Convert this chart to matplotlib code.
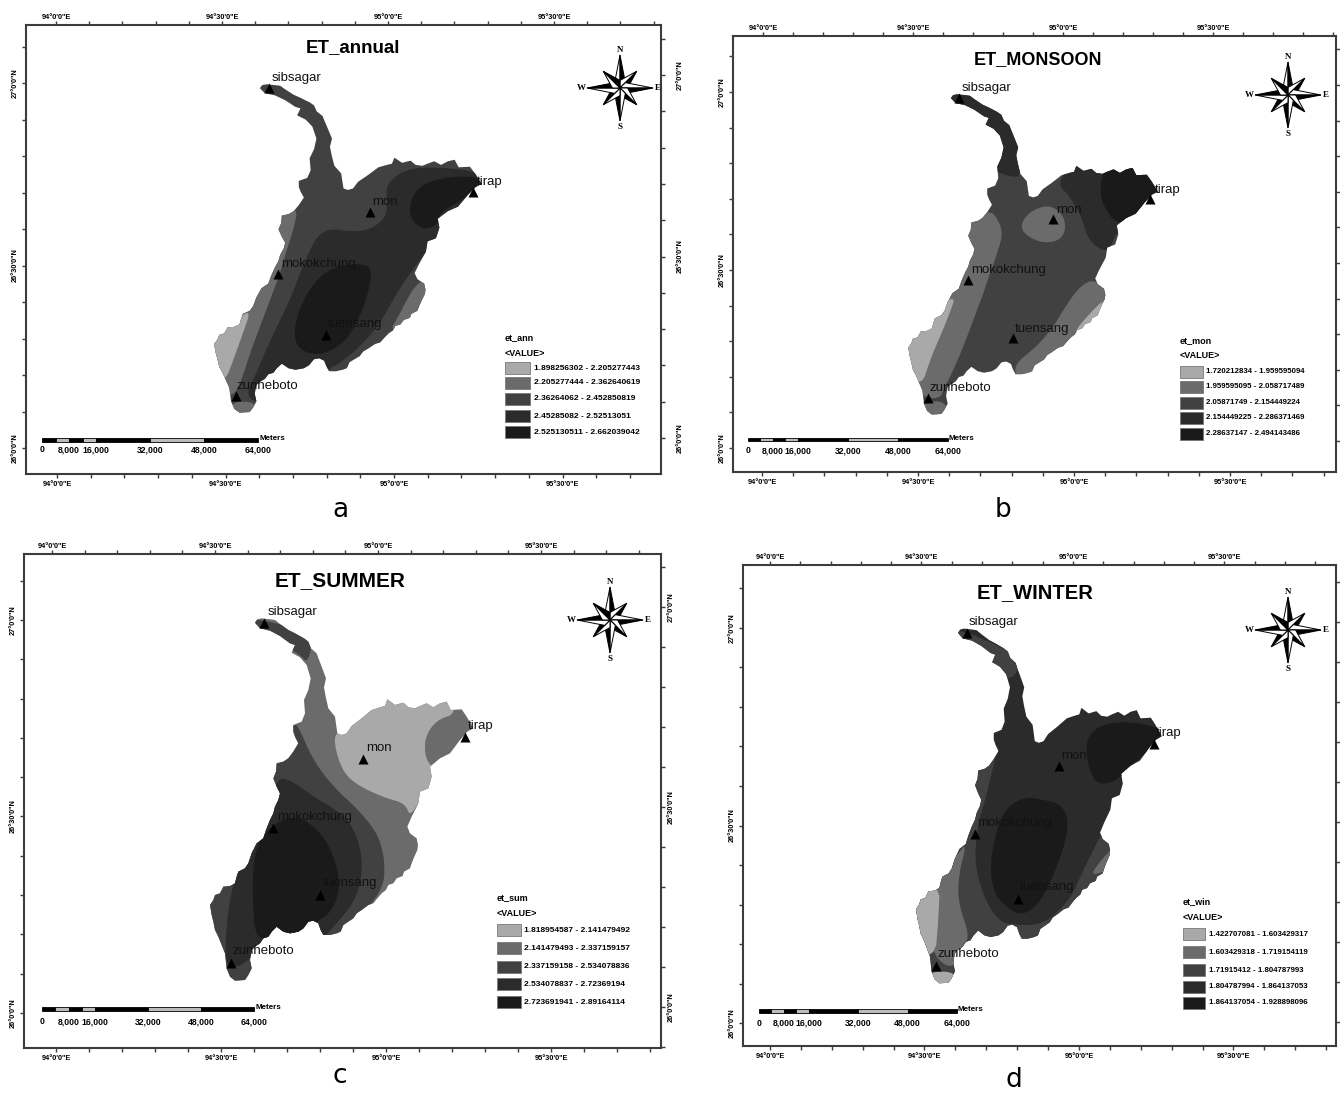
import numpy as np
import matplotlib
matplotlib.use("Agg")
import matplotlib.pyplot as plt
from matplotlib.patches import Polygon, Rectangle

plt.rcParams['font.family'] = ['Liberation Sans', 'DejaVu Sans']

# class colours, light to dark
C1, C2, C3, C4, C5 = '#a9a9a9', '#6b6b6b', '#414141', '#2b2b2b', '#1a1a1a'
class_colors = [C1, C2, C3, C4, C5]

# basin outline (3x crop units)
basin_x = [225, 232, 245, 270, 285, 300, 325, 345, 372, 385, 393, 410, 418, 425, 438, 432, 437, 445, 465, 472,
           485, 500, 515, 545, 575, 600, 615, 622, 645, 670, 685, 705, 720, 740, 760, 780, 800, 812, 845, 860,
           880, 862, 840, 810, 780, 750, 755, 745, 720, 715, 695, 682, 690, 710, 714, 712, 703, 695, 690, 672,
           668, 650, 640, 625, 618, 605, 592, 580, 565, 545, 530, 520, 505, 490, 482, 470, 450, 430, 422, 415,
           400, 385, 370, 355, 330, 310, 290, 275, 265, 250, 240, 225, 215, 212, 210, 215, 205, 195, 165, 150,
           140, 135, 125, 115, 105, 100, 95, 90, 100, 105, 120, 130, 150, 165, 170, 175, 195, 205, 215, 230,
           250, 258, 270, 280, 285, 295, 300, 290, 280, 288, 290, 310, 325, 340, 355, 345, 340, 340, 365, 375,
           372, 385, 392, 380, 360, 335, 345, 330, 300, 270, 240]
basin_y = [68, 58, 55, 58, 60, 72, 90, 100, 115, 125, 145, 160, 182, 200, 235, 262, 290, 325, 350, 400,
           405, 400, 378, 355, 330, 322, 318, 298, 315, 308, 322, 325, 318, 310, 322, 310, 305, 330, 328, 350,
           385, 395, 420, 460, 475, 500, 530, 565, 575, 610, 650, 680, 700, 715, 735, 750, 770, 790, 805, 815,
           828, 835, 850, 855, 870, 880, 895, 910, 915, 930, 940, 955, 965, 975, 995, 1000, 1005, 1005, 990, 970,
           962, 965, 985, 995, 1000, 995, 980, 995, 1010, 1015, 1030, 1040, 1050, 1065, 1080, 1105, 1125, 1140, 1142, 1130,
           1105, 1060, 1035, 1010, 990, 965, 945, 915, 900, 885, 880, 860, 858, 850, 830, 815, 805, 790, 760, 730,
           715, 690, 660, 640, 620, 600, 580, 560, 535, 515, 490, 485, 475, 455, 430, 410, 395, 375, 365, 340,
           300, 270, 235, 195, 172, 158, 135, 130, 108, 92, 85]

station_names = ['sibsagar', 'mon', 'tirap', 'mokokchung', 'tuensang', 'zunheboto']

# station triangles per panel
ann_sta_x = [237, 540, 850, 265, 407, 137]
ann_sta_y = [83, 457, 395, 642, 825, 1008]
mon_sta_x = [207, 490, 780, 235, 368, 115]
mon_sta_y = [83, 446, 387, 631, 805, 985]
sum_sta_x = [252, 550, 855, 280, 420, 153]
sum_sta_y = [68, 477, 410, 683, 885, 1088]
win_sta_x = [230, 507, 792, 255, 385, 137]
win_sta_y = [70, 467, 402, 672, 868, 1068]

# station label positions per panel
ann_lab_x = [245, 547, 860, 273, 413, 140]
ann_lab_y = [55, 427, 367, 613, 793, 978]
mon_lab_x = [215, 497, 795, 243, 375, 120]
mon_lab_y = [55, 420, 360, 600, 777, 955]
sum_lab_x = [262, 557, 862, 290, 427, 158]
sum_lab_y = [35, 445, 377, 650, 850, 1053]
win_lab_x = [236, 512, 798, 262, 390, 142]
win_lab_y = [35, 437, 370, 638, 832, 1033]

# zones of ET_annual
ann_c4 = [(590, 370), (650, 325), (750, 322), (870, 335), (900, 400), (800, 450), (760, 500), (720, 560), (660, 640),
          (620, 700), (570, 790), (510, 860), (450, 910), (415, 925), (415, 960), (290, 990), (230, 1000), (195, 1030),
          (170, 1000), (190, 960), (215, 900), (260, 800), (300, 720), (330, 640), (355, 580), (380, 530), (420, 505),
          (480, 515), (540, 510), (590, 470), (590, 420)]
ann_c5a = [(860, 350), (780, 350), (700, 370), (665, 410), (658, 450), (670, 490), (710, 510), (745, 490), (750, 460),
           (780, 440), (830, 410), (870, 370)]
ann_c5b = [(545, 620), (500, 610), (420, 625), (370, 670), (330, 740), (310, 820), (325, 865), (370, 885), (420, 875),
           (470, 840), (510, 770), (540, 680)]
ann_c2a = [(250, 440), (325, 440), (310, 510), (290, 570), (270, 640), (240, 720), (210, 800), (180, 880), (155, 960),
           (130, 1010), (60, 1010), (20, 800), (150, 660)]
ann_c2b = [(120, 1025), (200, 1025), (200, 1080), (120, 1080)]
ann_c2c = [(730, 650), (680, 670), (650, 720), (625, 770), (600, 810), (640, 800), (720, 740)]
ann_c1 = [(10, 780), (130, 790), (185, 745), (155, 830), (130, 900), (105, 965), (30, 1000)]

# zones of ET_MONSOON
mon_c4a = [(170, 60), (400, 60), (400, 320), (360, 320), (320, 305), (300, 290), (280, 200), (170, 100)]
mon_c4b = [(500, 340), (555, 270), (640, 270), (730, 270), (830, 400), (680, 480), (660, 540), (630, 540), (590, 500),
           (575, 440), (540, 380)]
mon_c5 = [(650, 280), (630, 340), (635, 400), (680, 465), (720, 440), (830, 400), (800, 300), (720, 280)]
mon_c2a = [(470, 405), (420, 425), (393, 460), (400, 490), (450, 518), (500, 515), (525, 490), (525, 450), (505, 420)]
mon_c2b = [(300, 420), (325, 450), (338, 490), (325, 540), (300, 610), (280, 670), (250, 750), (220, 830), (190, 900),
           (160, 960), (150, 985), (90, 985), (40, 800), (150, 650), (230, 450)]
mon_c1a = [(200, 670), (175, 740), (150, 800), (120, 870), (95, 950), (40, 900), (40, 800), (100, 740)]
mon_c2c = [(630, 640), (600, 630), (560, 660), (520, 720), (490, 770), (440, 830), (370, 885), (385, 930), (430, 930),
           (520, 840), (560, 780), (660, 690)]
mon_c1b = [(650, 680), (590, 740), (550, 790), (590, 780), (660, 730)]
mon_c2d = [(90, 1000), (170, 990), (170, 1060), (90, 1060)]

# zones of ET_SUMMER
sum_c1 = [(472, 395), (515, 370), (570, 320), (620, 280), (700, 290), (800, 290), (830, 340), (770, 360), (735, 410),
          (735, 470), (755, 500), (780, 550), (720, 600), (690, 650), (675, 610), (620, 595), (550, 565), (500, 530),
          (475, 480), (462, 420)]
sum_c3a = [(215, 50), (400, 100), (385, 190), (360, 165), (335, 150), (225, 85)]
sum_c3b = [(340, 360), (365, 400), (385, 450), (420, 510), (470, 570), (520, 615), (570, 670), (600, 720), (615, 790),
           (610, 860), (560, 930), (500, 985), (450, 1015), (300, 1200), (60, 1200), (60, 800), (250, 500)]
sum_c4 = [(290, 530), (340, 545), (400, 590), (470, 630), (520, 680), (545, 760), (545, 840), (520, 910), (470, 970),
          (425, 1020), (350, 1020), (270, 1020), (215, 1070), (180, 1100), (130, 1100), (150, 870), (200, 750),
          (260, 650)]
sum_c5 = [(330, 650), (380, 660), (440, 720), (475, 810), (478, 880), (450, 940), (410, 965), (350, 1010), (290, 1000),
          (250, 1020), (225, 1000), (218, 900), (218, 820), (230, 735), (270, 680)]

# zones of ET_WINTER
win_c3a = [(320, 425), (305, 490), (285, 570), (265, 640), (255, 720), (260, 790), (290, 880), (330, 935), (370, 945),
           (460, 945), (540, 870), (580, 780), (625, 690), (635, 670), (700, 670), (700, 800), (450, 1050), (100, 1150),
           (40, 900), (200, 650), (270, 450)]
win_c3b = [(190, 50), (380, 130), (385, 185), (355, 210), (325, 170), (190, 90)]
win_c5a = [(830, 360), (730, 335), (640, 340), (590, 380), (590, 450), (610, 510), (640, 525), (690, 505), (740, 450),
           (830, 380)]
win_c5b = [(410, 560), (350, 590), (320, 660), (300, 760), (310, 850), (360, 900), (395, 915), (440, 890), (480, 820),
           (520, 720), (538, 630), (510, 580), (460, 570)]
win_c2a = [(205, 730), (120, 830), (120, 940), (130, 1040), (190, 1080), (215, 1010), (240, 980), (205, 880), (205, 800),
           (230, 700)]
win_c1a = [(10, 840), (150, 815), (145, 930), (135, 1050), (20, 1020)]
win_c1b = [(110, 1085), (200, 1085), (200, 1140), (110, 1140)]
win_c2b = [(680, 700), (625, 760), (600, 800), (680, 770)]

# legend text
ann_legend = ['1.898256302 - 2.205277443', '2.205277444 - 2.362640619', '2.36264062 - 2.452850819',
              '2.45285082 - 2.52513051', '2.525130511 - 2.662039042']
mon_legend = ['1.720212834 - 1.959595094', '1.959595095 - 2.058717489', '2.05871749 - 2.154449224',
              '2.154449225 - 2.286371469', '2.28637147 - 2.494143486']
sum_legend = ['1.818954587 - 2.141479492', '2.141479493 - 2.337159157', '2.337159158 - 2.534078836',
              '2.534078837 - 2.72369194', '2.723691941 - 2.89164114']
win_legend = ['1.422707081 - 1.603429317', '1.603429318 - 1.719154119', '1.71915412 - 1.804787993',
              '1.804787994 - 1.864137053', '1.864137054 - 1.928898096']

lon_labels = ['94°0\'0"E', '94°30\'0"E', '95°0\'0"E', '95°30\'0"E']
lat_labels = ['27°0\'0"N', '26°30\'0"N', '26°0\'0"N']
scale_stops = [0, 4000, 8000, 12000, 16000, 32000, 48000, 64000]
scale_labels = {0: '0', 8000: '8,000', 16000: '16,000', 32000: '32,000', 48000: '48,000', 64000: '64,000'}

fig = plt.figure(figsize=(13.4, 10.95), dpi=100)
W, H = 1340.0, 1095.0


def rounded(pts, passes=2):
    # corner cutting, the zone edges are smooth curves in the source
    arr = np.array(pts, dtype=float)
    for _ in range(passes):
        nxt = np.roll(arr, -1, axis=0)
        arr = np.column_stack([0.75 * arr + 0.25 * nxt, 0.25 * arr + 0.75 * nxt]).reshape(-1, 2)
    return arr


def lon_ticks(start, step, right):
    pos = list(np.arange(start, right, step))
    labs = [lon_labels[i // 5] if i % 5 == 0 and i // 5 < 4 else '' for i in range(len(pos))]
    return pos, labs


def lat_ticks(first, step, top, bottom):
    pos, labs = [], []
    y = first
    while y - step > top:
        y -= step
    i = int(round((y - first) / step))
    while y < bottom:
        pos.append(y)
        labs.append(lat_labels[i // 5] if i % 5 == 0 and 0 <= i // 5 < 3 else '')
        y += step
        i += 1
    return pos, labs


def compass(ax, cx, cy, r):
    # eight points, each arm half black and half white
    for k in range(8):
        ang = k * np.pi / 4
        size = r if k % 2 == 0 else r * 0.72
        w = r * 0.23
        tip = (cx + size * np.sin(ang), cy - size * np.cos(ang))
        s1 = (cx + w * np.sin(ang + np.pi / 4), cy - w * np.cos(ang + np.pi / 4))
        s2 = (cx + w * np.sin(ang - np.pi / 4), cy - w * np.cos(ang - np.pi / 4))
        ax.add_patch(Polygon([(cx, cy), s2, tip], closed=True, fc='white', ec='black', lw=0.7))
        ax.add_patch(Polygon([(cx, cy), s1, tip], closed=True, fc='black', ec='black', lw=0.7))
    letter = dict(family='Liberation Serif', fontsize=6.5, fontweight='bold', ha='center', va='center')
    ax.text(cx, cy - r - 5, 'N', **letter)
    ax.text(cx, cy + r + 6, 'S', **letter)
    ax.text(cx - r - 6, cy, 'W', **letter)
    ax.text(cx + r + 5, cy, 'E', **letter)


def scale_bar(ax, x0, x1, y, ytext):
    px = (x1 - x0) / 64000.0
    for i in range(len(scale_stops) - 1):
        a, b = scale_stops[i], scale_stops[i + 1]
        ax.add_patch(Rectangle((x0 + a * px, y - 2), (b - a) * px, 3.5, fc='#bbbbbb' if i % 2 else 'black',
                               ec='black', lw=0.6))
    for v, s in scale_labels.items():
        ax.text(x0 + v * px, ytext, s, fontsize=6.2, fontweight='bold', ha='center', va='center')
    ax.text(x1 + 1, y - 1.5, 'Meters', fontsize=5.8, fontweight='bold', ha='left', va='center')


def panel(frame, origin, title, title_xy, sta_x, sta_y, lab_x, lab_y, base, zones, ticks,
          compass_xy, bar, legend_name, legend_text, legend_box, letter_xy):
    l, t, r, b = frame
    ox, oy = origin
    ax = fig.add_axes([l / W, 1 - b / H, (r - l) / W, (b - t) / H])
    ax.set_xlim(l, r)
    ax.set_ylim(b, t)
    for s in ax.spines.values():
        s.set_color('#3c3c3c')
        s.set_linewidth(1.5)

    # basin outline is shared, fit it onto this panel through the stations
    fx = np.polyfit(sum_sta_x, sta_x, 1)
    fy = np.polyfit(sum_sta_y, sta_y, 1)
    bx = ox + np.polyval(fx, basin_x) / 3
    by = oy + np.polyval(fy, basin_y) / 3
    outline = Polygon(np.column_stack([bx, by]), closed=True, fc=class_colors[base], ec='none')
    ax.add_patch(outline)
    for cls, pts in zones:
        arr = rounded(pts)
        zone = Polygon(np.column_stack([ox + arr[:, 0] / 3, oy + arr[:, 1] / 3]), closed=True,
                       fc=class_colors[cls], ec='none')
        ax.add_patch(zone)
        zone.set_clip_path(outline)

    # stations
    ax.scatter(ox + np.array(sta_x) / 3, oy + np.array(sta_y) / 3, marker='^', s=52, c='black', zorder=5, lw=0)
    for name, x, y in zip(station_names, lab_x, lab_y):
        ax.text(ox + x / 3, oy + y / 3, name, fontsize=9.5, color='#111111', ha='left', va='center', zorder=6)

    # graticule ticks, top and bottom do not line up in the source
    bx0, bstep, tx0, tstep, ll0, lstep, rl0, rstep, show_right, right_pad = ticks
    tick_kw = dict(length=3, width=1.0, color='#3c3c3c', pad=2, labelsize=5.3)
    pos, labs = lon_ticks(bx0, bstep, r)
    ax.set_xticks(pos, labs, fontweight='bold')
    ax.tick_params(axis='x', **tick_kw)
    pos, labs = lat_ticks(ll0, lstep, t, b)
    ax.set_yticks(pos, labs, rotation=90, va='center', fontweight='bold')
    ax.tick_params(axis='y', **tick_kw)
    top = ax.secondary_xaxis('top')
    pos, labs = lon_ticks(tx0, tstep, r)
    top.set_xticks(pos, labs, fontweight='bold')
    top.tick_params(axis='x', length=3, width=1.0, color='#3c3c3c', pad=0, labelsize=5.3)
    right = ax.secondary_yaxis('right')
    pos, labs = lat_ticks(rl0, rstep, t, b)
    right.set_yticks(pos, labs if show_right else [''] * len(pos), rotation=90, va='center', fontweight='bold')
    right.tick_params(axis='y', length=3, width=1.0, color='#3c3c3c', pad=right_pad, labelsize=5.3)
    for sec in (top, right):
        sec.spines[:].set_visible(False)

    ax.text(title_xy[0], title_xy[1], title, fontsize=title_xy[2], fontweight='bold', ha='center', va='center')
    compass(ax, compass_xy[0], compass_xy[1], 33)
    scale_bar(ax, *bar)

    # legend
    x0, x1, tx, y_title, y_value, centres, size = legend_box
    ax.text(x0, y_title, legend_name, fontsize=6.5, fontweight='bold', ha='left', va='center')
    ax.text(x0, y_value, '<VALUE>', fontsize=6.5, fontweight='bold', ha='left', va='center')
    for col, yc, lab in zip(class_colors, centres, legend_text):
        ax.add_patch(Rectangle((x0, yc - 6), x1 - x0, 12, fc=col, ec='#777777', lw=0.6))
        ax.text(tx, yc, lab, fontsize=size, fontweight='bold', ha='left', va='center')

    ax.text(letter_xy[0], letter_xy[1], letter_xy[2], fontsize=19, family='DejaVu Sans', ha='center', va='center',
            clip_on=False)
    return ax


panel((26, 25, 661, 474), (190, 60), 'ET_annual', (353, 48, 13.5), ann_sta_x, ann_sta_y, ann_lab_x, ann_lab_y, 2,
      [(3, ann_c4), (4, ann_c5a), (4, ann_c5b), (1, ann_c2a), (1, ann_c2b), (1, ann_c2c), (0, ann_c1)],
      (57, 33.7, 56, 33.2, 83, 36.5, 75, 36.3, True, 8),
      (620, 88), (42, 258, 440, 450), 'et_ann', ann_legend,
      (505, 530, 534, 338, 353, [368, 383, 399, 416, 432], 6.0), (340, 510, 'a'))

panel((733, 36, 1336, 472), (890, 70), 'ET_MONSOON', (1038, 60, 13), mon_sta_x, mon_sta_y, mon_lab_x, mon_lab_y, 2,
      [(3, mon_c4a), (3, mon_c4b), (4, mon_c5), (1, mon_c2a), (1, mon_c2b), (0, mon_c1a), (1, mon_c2c), (0, mon_c1b),
       (1, mon_c2d)],
      (762, 31.2, 763, 30.0, 92, 35.6, 85, 35.6, False, 2),
      (1288, 95), (748, 948, 440, 451), 'et_mon', mon_legend,
      (1180, 1203, 1206, 341, 356, [372, 387, 403, 418, 434], 5.7), (1003, 510, 'b'))

panel((24, 554, 661, 1048), (180, 600), 'ET_SUMMER', (340, 581, 15), sum_sta_x, sum_sta_y, sum_lab_x, sum_lab_y, 1,
      [(0, sum_c1), (2, sum_c3a), (2, sum_c3b), (3, sum_c4), (4, sum_c5)],
      (56, 33.0, 52, 32.6, 620, 39.3, 607, 40.0, True, 2),
      (610, 620), (42, 254, 1009, 1022), 'et_sum', sum_legend,
      (497, 521, 524, 898, 913, [930, 948, 967, 984, 1002], 6.0), (340, 1076, 'c'))

panel((743, 565, 1336, 1046), (890, 610), 'ET_WINTER', (1035, 593, 14.5), win_sta_x, win_sta_y, win_lab_x, win_lab_y, 3,
      [(2, win_c3a), (2, win_c3b), (4, win_c5a), (4, win_c5b), (1, win_c2a), (0, win_c1a), (0, win_c1b), (1, win_c2b)],
      (770, 30.9, 770, 30.3, 628, 39.5, 622, 40.0, False, 2),
      (1288, 630), (759, 957, 1011, 1023), 'et_win', win_legend,
      (1183, 1205, 1209, 902, 917, [934, 952, 970, 987, 1003], 5.7), (1014, 1080, 'd'))

fig.savefig('out.png', dpi=100)
